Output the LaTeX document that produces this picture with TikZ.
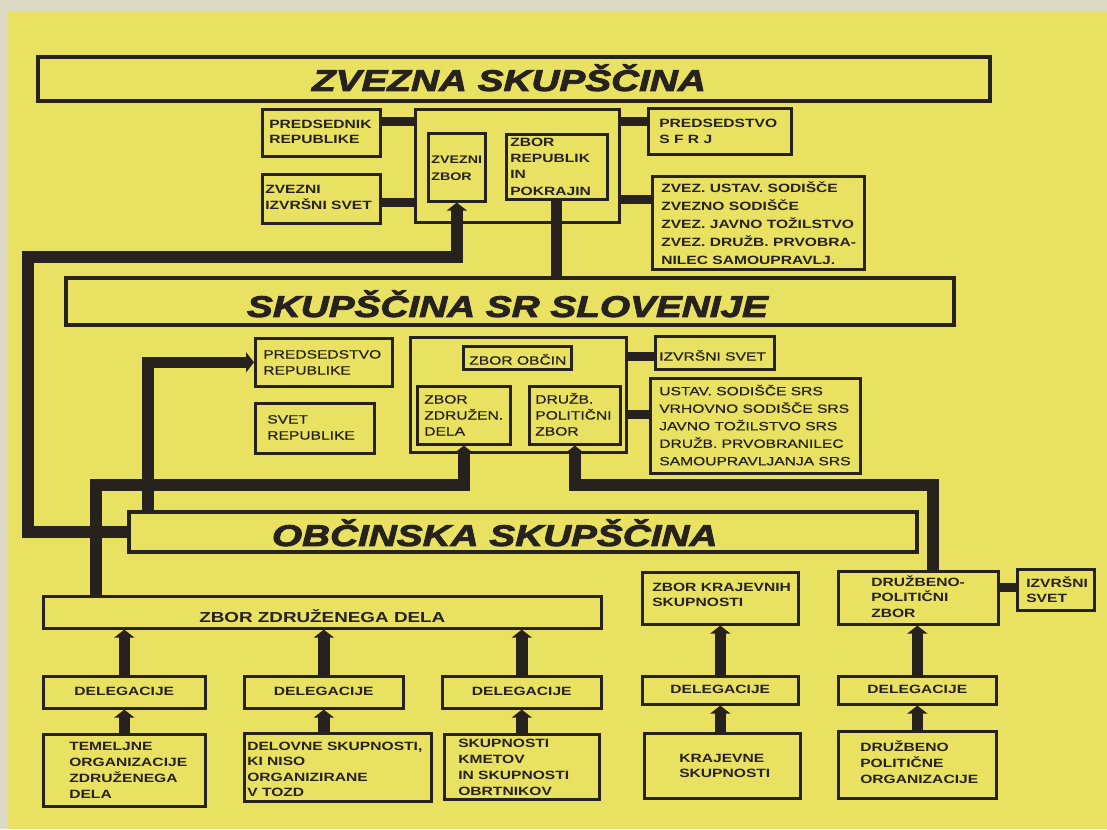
\documentclass[tikz,border=0pt]{standalone}
\usepackage{fontspec}
\setmainfont{Liberation Sans}[FakeStretch=1.3,UprightFeatures={FakeBold=0.6}]
\newfontfamily\titlefont{Liberation Sans}[FakeStretch=1.3,BoldItalicFeatures={FakeBold=3}]
\usetikzlibrary{arrows.meta}
\definecolor{bg}{RGB}{232,225,98}
\definecolor{paper}{RGB}{220,218,196}
\definecolor{ink}{RGB}{40,34,30}
\def\bxsize{12}\def\bxlead{16.5}\def\bxweight{\bfseries}
\tikzset{
  tx/.store in=\bxinset, ty/.store in=\bxdy, tal/.store in=\bxalign,
  sz/.store in=\bxsize, ld/.store in=\bxlead, wt/.store in=\bxweight,
  light/.style={wt=\mdseries},
  box/.style={draw=ink, line width=2.6pt, inner sep=0pt, text=ink,
    font=\fontsize{\bxsize}{\bxlead}\selectfont\bxweight},
  ttl/.style={line width=4pt, font=\titlefont\fontsize{29.8}{30}\selectfont\bfseries\itshape},
  stub/.style={draw=ink, line width=9pt},
  route/.style={draw=ink, line width=11pt, line join=miter},
  arr/.style={draw=ink, line width=11.5pt, line join=miter, -{Triangle[width=20pt,length=8pt]}},
}
\newcommand\bx[7][]{%
  \pgfmathsetmacro\bxw{#5-#3}%
  \pgfmathsetmacro\bxh{#6-#4}%
  \def\bxinset{6}\def\bxdy{-4}\def\bxalign{l}%
  \def\bxsize{12}\def\bxlead{16.5}\def\bxweight{\bfseries}%
  \node[box,anchor=north west,minimum width=\bxw pt,minimum height=\bxh pt,#1] (#2) at (#3,#4)
    {\makebox[\bxw pt][\bxalign]{\hspace*{\bxinset pt}\raisebox{\bxdy pt}[0pt][0pt]{\begin{tabular}[c]{@{}l@{}}#7\end{tabular}}}};%
}
\begin{document}
\begin{tikzpicture}[x=1pt,y=-1pt]
\useasboundingbox (0,0) rectangle (1107,829);
\fill[bg] (0,0) rectangle (1107,829);
\fill[paper] (0,0) rectangle (1107,12);
\fill[paper] (0,0) rectangle (7,829);

% ---------- federal level ----------
\bx[ttl,tx=274,ty=-9.3]{zs}{36}{55}{988}{99}{ZVEZNA SKUPŠČINA}
\bx[tx=7,ty=-3,ld=15]{pr}{261}{108}{379}{155}{PREDSEDNIK\\REPUBLIKE}
\bx[tx=3,ty=-2,ld=16]{zis}{261}{173}{379}{222}{ZVEZNI\\IZVRŠNI SVET}
\bx{fb}{414}{108}{618}{221}{}
\bx[tx=3,ty=-4,sz=11,ld=16.5]{zz}{427}{132}{484}{200}{ZVEZNI\\ZBOR}
\bx[tx=4,ty=-4,ld=16]{zr}{505}{133}{606}{198}{ZBOR\\REPUBLIK\\IN\\POKRAJIN}
\bx[tx=11,ty=-4,ld=16]{ps}{647}{107}{790}{153}{PREDSEDSTVO\\S F R J}
\bx[tx=9,ty=-5.5,ld=18]{fc}{651}{175}{863}{268}{ZVEZ. USTAV. SODIŠČE\\ZVEZNO SODIŠČE\\ZVEZ. JAVNO TOŽILSTVO\\ZVEZ. DRUŽB. PRVOBRA-\\NILEC SAMOUPRAVLJ.}

% ---------- republic level ----------
\bx[ttl,tx=181,ty=-12.8]{sk}{64}{276}{952}{323}{SKUPŠČINA SR SLOVENIJE}
\bx[light,tx=8,ty=-4,ld=16]{psr}{254}{337}{391}{385}{PREDSEDSTVO\\REPUBLIKE}
\bx[light,tx=12,ty=-3,ld=16]{svr}{254}{402}{373}{452}{SVET\\REPUBLIKE}
\bx{rb}{409}{336}{625}{451}{}
\bx[light,tx=6,ty=-6.5]{zo}{462}{345}{570}{368}{ZBOR OBČIN}
\bx[light,tx=7,ty=-4,ld=16]{zd}{416}{385}{509}{443}{ZBOR\\ZDRUŽEN.\\DELA}
\bx[light,tx=6,ty=-4,ld=16]{dp}{528}{385}{619}{443}{DRUŽB.\\POLITIČNI\\ZBOR}
\bx[light,tx=4,ty=-7.5]{isr}{654}{335}{773}{368}{IZVRŠNI SVET}
\bx[light,tx=9,ty=-4,ld=17.5]{rc}{649}{377}{859}{472}{USTAV. SODIŠČE SRS\\VRHOVNO SODIŠČE SRS\\JAVNO TOŽILSTVO SRS\\DRUŽB. PRVOBRANILEC\\SAMOUPRAVLJANJA SRS}

% ---------- municipal level ----------
\bx[ttl,tx=143,ty=-11.3]{obc}{127}{510}{915}{550}{OBČINSKA SKUPŠČINA}
\bx[tx=0,tal=c,ty=-9.5,sz=14.5,ld=17]{zzdb}{42}{595}{600}{627}{ZBOR ZDRUŽENEGA DELA}
\bx[tx=10,ty=-1,ld=15]{kz}{641}{571}{797}{623}{ZBOR KRAJEVNIH\\SKUPNOSTI}
\bx[tx=33,ty=-4,ld=15.5]{dpb}{837}{570}{997}{623}{DRUŽBENO-\\POLITIČNI\\ZBOR}
\bx[tx=9,ty=-5.5,ld=15]{isb}{1016}{568}{1093}{609}{IZVRŠNI\\SVET}

\bx[tx=0,tal=c,ty=-3]{d1}{42}{675}{204}{707}{DELEGACIJE}
\bx[tx=0,tal=c,ty=-3]{d2}{243}{675}{402}{707}{DELEGACIJE}
\bx[tx=0,tal=c,ty=-3]{d3}{441}{675}{600}{707}{DELEGACIJE}
\bx[tx=0,tal=c,ty=-3]{dk}{641}{675}{797}{703}{DELEGACIJE}
\bx[tx=0,tal=c,ty=-3]{dd}{837}{675}{995}{703}{DELEGACIJE}

\bx[tx=26,ty=-4,ld=16]{b1}{42}{733}{204}{805}{TEMELJNE\\ORGANIZACIJE\\ZDRUŽENEGA\\DELA}
\bx[tx=3,ty=-6,ld=15.5]{b2}{243}{732}{430}{800}{DELOVNE SKUPNOSTI,\\KI NISO\\ORGANIZIRANE\\V TOZD}
\bx[tx=14,ty=-4,ld=16]{b3}{443}{733}{598}{798}{SKUPNOSTI\\KMETOV\\IN SKUPNOSTI\\OBRTNIKOV}
\bx[tx=35,ty=-4,ld=15]{bk}{643}{732}{799}{797}{KRAJEVNE\\SKUPNOSTI}
\bx[tx=22,ty=-2,ld=16]{bd}{837}{730}{995}{797}{DRUŽBENO\\POLITIČNE\\ORGANIZACIJE}

% ---------- connectors ----------
\draw[stub] (pr.east |- 0,122) -- (fb.west |- 0,122);
\draw[stub] (zis.east |- 0,202) -- (fb.west |- 0,202);
\draw[stub] (fb.east |- 0,122) -- (ps.west |- 0,122);
\draw[stub] (fb.east |- 0,199) -- (fc.west |- 0,199);
\draw[route] (zr.south) -- (zr.south |- sk.north);
\draw[arr] (obc.west) -| (28,257) -| (zz.south);

\draw[stub] (rb.east |- 0,356) -- (isr.west |- 0,356);
\draw[stub] (rb.east |- 0,414) -- (rc.west |- 0,414);
\draw[arr] (obc.north -| 148,0) |- (psr.west);
\draw[arr] (zzdb.north -| 96,0) |- (zd.south |- 0,485) -- (zd.south);
\draw[arr] (dpb.north -| 933,0) |- (dp.south |- 0,485) -- (dp.south);

\foreach \d/\b in {d1/b1,d2/b2,d3/b3}{
  \draw[arr] (\d.north) -- (\d.north |- zzdb.south);
  \draw[arr] (\b.north -| \d) -- (\d.south);
}
\draw[arr] (dk.north) -- (dk.north |- kz.south);
\draw[arr] (bk.north -| dk) -- (dk.south);
\draw[arr] (dd.north) -- (dd.north |- dpb.south);
\draw[arr] (bd.north -| dd) -- (dd.south);
\draw[stub] (dpb.east |- 0,587) -- (isb.west |- 0,587);
\end{tikzpicture}
\end{document}
